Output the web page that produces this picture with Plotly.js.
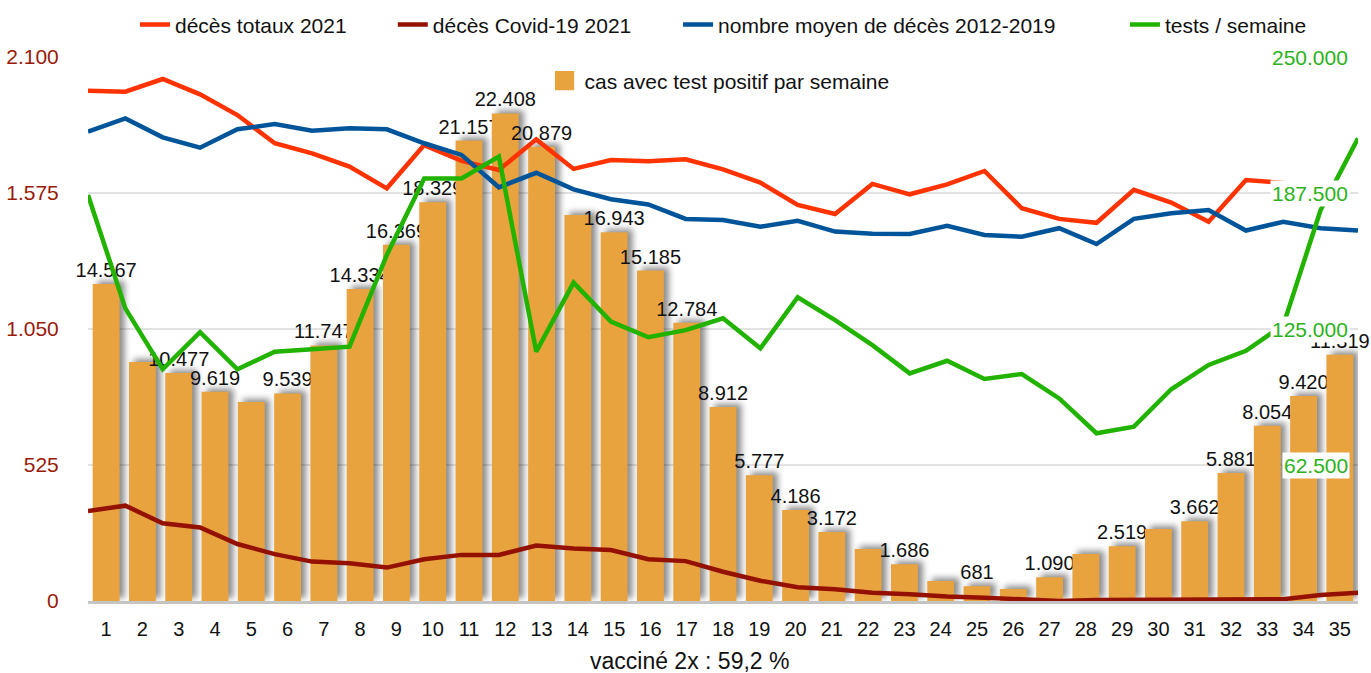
<!DOCTYPE html>
<html>
<head>
<meta charset="utf-8">
<script src="https://cdn.plot.ly/plotly-3.0.1.min.js"></script>
<style>
html,body{margin:0;padding:0;background:#fff;}
#chart{width:1371px;height:673px;}
</style>
</head>
<body>
<div id="chart"></div>
<script>
// ---- data ----
const weeks = [1,2,3,4,5,6,7,8,9,10,11,12,13,14,15,16,17,18,19,20,21,22,23,24,25,26,27,28,29,30,31,32,33,34,35];
const casesPositive = [14567,10980,10477,9619,9150,9539,11747,14334,16369,18329,21157,22408,20879,17740,16943,15185,12784,8912,5777,4186,3172,2390,1686,920,681,550,1090,2160,2519,3310,3662,5881,8054,9420,11319];
const caseLabelShown = [1,0,1,1,0,1,1,1,1,1,1,1,1,0,1,1,1,1,1,1,1,0,1,0,1,0,1,0,1,0,1,1,1,1,1];
const weeksDeaths2021 = [1,2,3,4,5,6,7,8,9,10,11,12,13,14,15,16,17,18,19,20,21,22,23,24,25,26,27,28,29,30,31,32,33];
const totalDeaths2021 = [1970,1966,2015,1956,1876,1767,1728,1677,1593,1760,1699,1664,1782,1668,1702,1698,1705,1666,1615,1529,1494,1610,1570,1608,1660,1516,1475,1460,1587,1538,1464,1625,1614];
const covidDeaths2021 = [347,368,300,284,220,181,152,146,129,161,178,178,214,203,197,161,154,113,78,53,45,32,26,17,13,8,0,4,4,4,7,8,7,23,32];
const avgDeaths2012_2019 = [1812,1863,1790,1750,1821,1841,1815,1825,1821,1767,1722,1597,1653,1589,1551,1531,1475,1471,1445,1468,1426,1418,1417,1448,1413,1406,1439,1378,1475,1497,1509,1430,1464,1439,1430];
const testsPerWeek = [186600,134500,106500,123500,106500,114600,115700,116900,159000,194200,194200,204200,114600,146300,128400,121200,124500,129900,116100,139600,129100,117600,104600,110400,102000,104300,93100,77100,80100,97300,108500,115000,126800,179700,212600];
const leftTicks = [0,525,1050,1575,2100];
const leftTickText = ['0','525','1.050','1.575','2.100'];
const rightTicks = [62500,125000,187500,250000];
const rightTickText = ['62.500','125.000','187.500','250.000'];
const xTitle = 'vaccin\u00e9 2x : 59,2 %';

const FONT = '"Liberation Sans", Arial, sans-serif';
const C_RED = '#ff3300', C_DARK = '#941100', C_BLUE = '#00559a', C_GREEN = '#22b300', C_BAR = '#e8a33e';
const C_LEFT = '#9a1a0a', C_RIGHT = '#2cb21a';

const barText = casesPositive.map((v,i)=> caseLabelShown[i] ? v.toLocaleString('de-DE') : '');

const data = [
  {type:'bar', x:weeks, y:casesPositive, xaxis:'x', yaxis:'y', name:'cas avec test positif par semaine',
   marker:{color:C_BAR, line:{width:0}}, width:0.74, text:barText, textposition:'outside',
   constraintext:'none', cliponaxis:false, textfont:{family:FONT, size:20, color:'#111'}, legend:'legend5'},
  {type:'scatter', mode:'lines', x:weeksDeaths2021, y:totalDeaths2021, xaxis:'x2', yaxis:'y2',
   name:'d\u00e9c\u00e8s totaux 2021', line:{color:C_RED, width:4.5}, legend:'legend'},
  {type:'scatter', mode:'lines', x:weeks, y:covidDeaths2021, xaxis:'x2', yaxis:'y2',
   name:'d\u00e9c\u00e8s Covid-19 2021', line:{color:C_DARK, width:4.5}, legend:'legend2'},
  {type:'scatter', mode:'lines', x:weeks, y:avgDeaths2012_2019, xaxis:'x2', yaxis:'y2',
   name:'nombre moyen de d\u00e9c\u00e8s 2012-2019', line:{color:C_BLUE, width:4.5}, legend:'legend3'},
  {type:'scatter', mode:'lines', x:weeks, y:testsPerWeek, xaxis:'x2', yaxis:'y3',
   name:'tests / semaine', line:{color:C_GREEN, width:4.5}, legend:'legend4'}
];

const legCommon = {orientation:'h', yanchor:'middle', xanchor:'left', bgcolor:'rgba(0,0,0,0)',
  font:{family:FONT, size:21, color:'#111'}, itemwidth:30};

const annotations = rightTicks.map((v,i)=>({
  xref:'paper', yref:'y3', x:0.9937, y:v, xanchor:'right', yanchor:'middle',
  text:rightTickText[i], showarrow:false, bgcolor:'#ffffff', borderpad:1,
  font:{family:FONT, size:21, color:C_RIGHT}
}));
annotations.push({
  xref:'paper', yref:'paper', x:0.474, y:-0.111, xanchor:'center', yanchor:'middle',
  text:xTitle, showarrow:false, font:{family:FONT, size:23, color:'#111'}
});

const layout = {
  width:1371, height:673,
  margin:{l:88, r:13, t:57, b:72, autoexpand:false},
  paper_bgcolor:'#fff', plot_bgcolor:'#fff',
  showlegend:true, hovermode:false,
  font:{family:FONT, size:20, color:'#111'},
  xaxis:{range:[0.5,35.5], tickvals:weeks, ticktext:weeks.map(String), showgrid:false, zeroline:false,
         showline:true, linecolor:'#c4c4c4', linewidth:3, ticks:'outside', ticklen:8, tickcolor:'rgba(0,0,0,0)',
         tickfont:{family:FONT, size:20, color:'#111'}},
  xaxis2:{overlaying:'x', range:[1,35], visible:false},
  yaxis:{range:[0,25000], showgrid:false, zeroline:false, showticklabels:false, ticks:''},
  yaxis2:{overlaying:'y', side:'left', range:[0,2100], tickvals:leftTicks, ticktext:leftTickText,
          showgrid:true, gridcolor:'#e2e2e2', gridwidth:1.5, zeroline:false,
          ticks:'outside', ticklen:24, tickcolor:'rgba(0,0,0,0)',
          tickfont:{family:FONT, size:21, color:C_LEFT}},
  yaxis3:{overlaying:'y', side:'right', range:[0,250000], showgrid:false, zeroline:false,
          showticklabels:false, ticks:''},
  legend: Object.assign({}, legCommon, {x:0.037, y:1.059}),
  legend2: Object.assign({}, legCommon, {x:0.240, y:1.059}),
  legend3: Object.assign({}, legCommon, {x:0.4646, y:1.059}),
  legend4: Object.assign({}, legCommon, {x:0.8165, y:1.059}),
  legend5: Object.assign({}, legCommon, {x:0.3595, y:0.956}),
  annotations: annotations
};

Plotly.newPlot('chart', data, layout, {displayModeBar:false, staticPlot:true}).then(()=>{
  document.querySelectorAll('.barlayer .trace .point path').forEach(p=>{
    p.style.filter = 'drop-shadow(5px -3px 3px rgba(0,0,0,0.45))';
  });
  document.querySelectorAll('.legend5 .legendpoints path').forEach(p=>{
    p.setAttribute('transform', (p.getAttribute('transform')||'') + ' scale(1.6)');
  });
});
</script>
</body>
</html>
